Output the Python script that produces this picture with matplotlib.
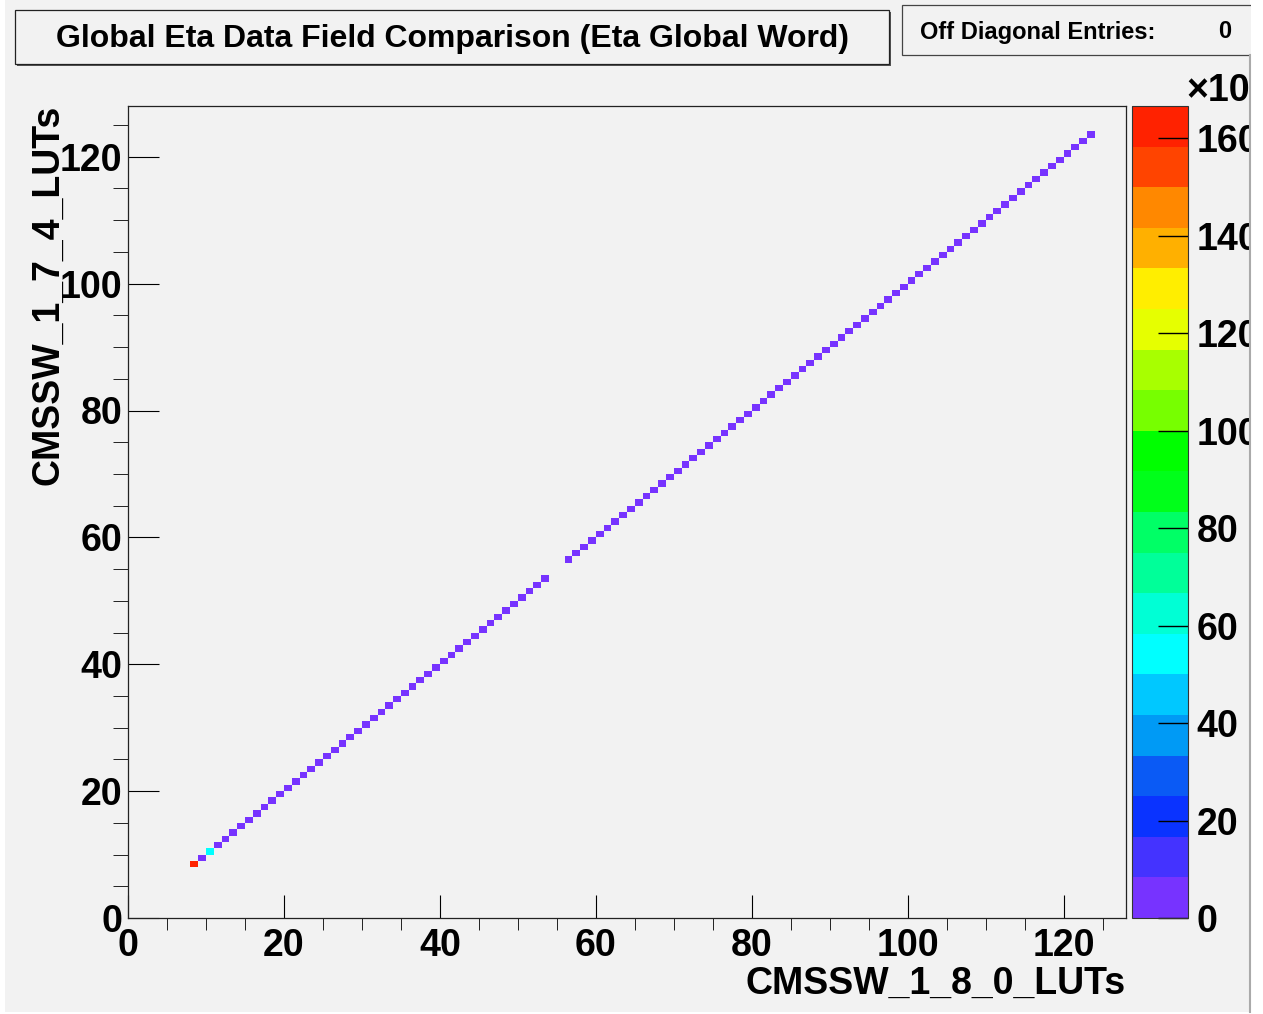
import numpy as np
import matplotlib
matplotlib.use("Agg")
import matplotlib.pyplot as plt
from matplotlib.colors import ListedColormap, BoundaryNorm
from matplotlib.patches import Rectangle
from matplotlib.ticker import MultipleLocator

# diagonal cells (eta word, same in both LUT versions), bins 54 and 55 are empty
eta_lower = list(range(8, 54))
eta_upper = list(range(56, 124))
# entries per cell, in units of 10^3
counts_lower = [166, 4, 55, 4, 4, 4, 4, 4, 4, 4,
                4, 4, 4, 4, 4, 4, 4, 4, 4, 4,
                4, 4, 4, 4, 4, 4, 4, 4, 4, 4,
                4, 4, 4, 4, 4, 4, 4, 4, 4, 4,
                4, 4, 4, 4, 4, 4]
counts_upper = [4, 4, 4, 4, 4, 4, 4, 4, 4, 4,
                4, 4, 4, 4, 4, 4, 4, 4, 4, 4,
                4, 4, 4, 4, 4, 4, 4, 4, 4, 4,
                4, 4, 4, 4, 4, 4, 4, 4, 4, 4,
                4, 4, 4, 4, 4, 4, 4, 4, 4, 4,
                4, 4, 4, 4, 4, 4, 4, 4, 4, 4,
                4, 4, 4, 4, 4, 4, 4, 4]
n_bins = 128
z_max = 166.6
cbar_ticks = [0, 20, 40, 60, 80, 100, 120, 140, 160]
palette = ['#7733ff', '#4433ff', '#0a33ff', '#0a5af5', '#009af5',
           '#00c8ff', '#00ffff', '#00ffd5', '#00ff99', '#00ff66',
           '#00ff1a', '#00ff00', '#77ff00', '#a8ff00', '#e6ff00',
           '#ffee00', '#ffb000', '#ff8800', '#ff4400', '#ff2200']

W, H = 1263, 1014
def fx(px): return px / W
def fy(py): return 1 - py / H

plt.rcParams['font.family'] = ['Liberation Sans', 'DejaVu Sans']
plt.rcParams['font.weight'] = 'bold'

fig = plt.figure(figsize=(W / 100, H / 100), dpi=100, facecolor='white')
# ROOT canvas
fig.patches.append(Rectangle((fx(5), fy(1012)), fx(1250) - fx(5), fy(0) - fy(1012),
                             transform=fig.transFigure, facecolor='#f2f2f2', edgecolor='none', zorder=-5))

hist = np.zeros((n_bins, n_bins))
for e, c in zip(eta_lower + eta_upper, counts_lower + counts_upper):
    hist[e, e] = c
hist = np.ma.masked_equal(hist, 0)

cmap = ListedColormap(palette)
levels = np.linspace(0, z_max, len(palette) + 1)
norm = BoundaryNorm(levels, cmap.N)

ax = fig.add_axes([fx(128), fy(918), fx(1126) - fx(128), fy(106) - fy(918)])
ax.set_facecolor('#f2f2f2')
edges = np.arange(n_bins + 1)
ax.pcolormesh(edges, edges, hist, cmap=cmap, norm=norm, edgecolors='none')
ax.set_xlim(0, n_bins)
ax.set_ylim(0, n_bins)
for a in (ax.xaxis, ax.yaxis):
    a.set_major_locator(MultipleLocator(20))
    a.set_minor_locator(MultipleLocator(5))
ax.tick_params(direction='in', top=False, right=False, labelsize=27, colors='black')
ax.tick_params(axis='x', which='major', length=16.5, pad=7)
ax.tick_params(axis='x', which='minor', length=8.5)
ax.tick_params(axis='y', which='major', length=22, pad=4)
ax.tick_params(axis='y', which='minor', length=11)
for s in ax.spines.values():
    s.set_linewidth(0.9)
    s.set_color('#222222')

cax = fig.add_axes([fx(1132), fy(918), fx(1188) - fx(1132), fy(106) - fy(918)])
sm = plt.cm.ScalarMappable(cmap=cmap, norm=norm)
cb = fig.colorbar(sm, cax=cax, ticks=cbar_ticks, spacing='proportional')
cb.outline.set_linewidth(0.8)
cb.outline.set_edgecolor('#333333')
cax.tick_params(direction='in', length=21.5, labelsize=27, pad=6, width=1)
cax.set_yticklabels([str(t) for t in cbar_ticks])
cax.minorticks_off()

fig.text(fx(1186), fy(91), '×10', fontsize=27, fontweight='bold', ha='left', va='center')

fig.text(fx(1126), fy(984), 'CMSSW_1_8_0_LUTs', fontsize=27, fontweight='bold', ha='right', va='center')
fig.text(fx(48), fy(105), 'CMSSW_1_7_4_LUTs', fontsize=27, fontweight='bold', rotation=90,
         ha='center', va='top')

# title box with shadow
fig.patches.append(Rectangle((fx(17), fy(66)), fx(889) - fx(15), fy(10) - fy(64),
                             transform=fig.transFigure, facecolor='#555555', edgecolor='none', zorder=4))
fig.patches.append(Rectangle((fx(15), fy(64)), fx(889) - fx(15), fy(10) - fy(64),
                             transform=fig.transFigure, facecolor='#f2f2f2', edgecolor='#222222',
                             linewidth=0.9, zorder=5))
fig.text(fx(452), fy(39), 'Global Eta Data Field Comparison (Eta Global Word)', fontsize=23,
         fontweight='bold', ha='center', va='center', zorder=6)

# stats box
fig.patches.append(Rectangle((fx(902), fy(55)), fx(1262) - fx(902), fy(5) - fy(55),
                             transform=fig.transFigure, facecolor='#f2f2f2', edgecolor='#444444',
                             linewidth=0.9, zorder=5))
fig.text(fx(920), fy(32), 'Off Diagonal Entries:', fontsize=17, fontweight='bold',
         ha='left', va='center', zorder=6)
fig.text(fx(1225), fy(32), '0', fontsize=17, fontweight='bold', ha='center', va='center', zorder=6)

# canvas right edge, everything past it is cut
fig.patches.append(Rectangle((fx(1251), 0), 1 - fx(1251), 1, transform=fig.transFigure,
                             facecolor='white', edgecolor='none', zorder=10))
fig.lines.append(plt.Line2D([fx(1250), fx(1250)], [fy(1012), fy(55)], transform=fig.transFigure,
                            color='#aaaaaa', linewidth=1.5, zorder=11))

fig.savefig('out.png', dpi=100, facecolor='white')
